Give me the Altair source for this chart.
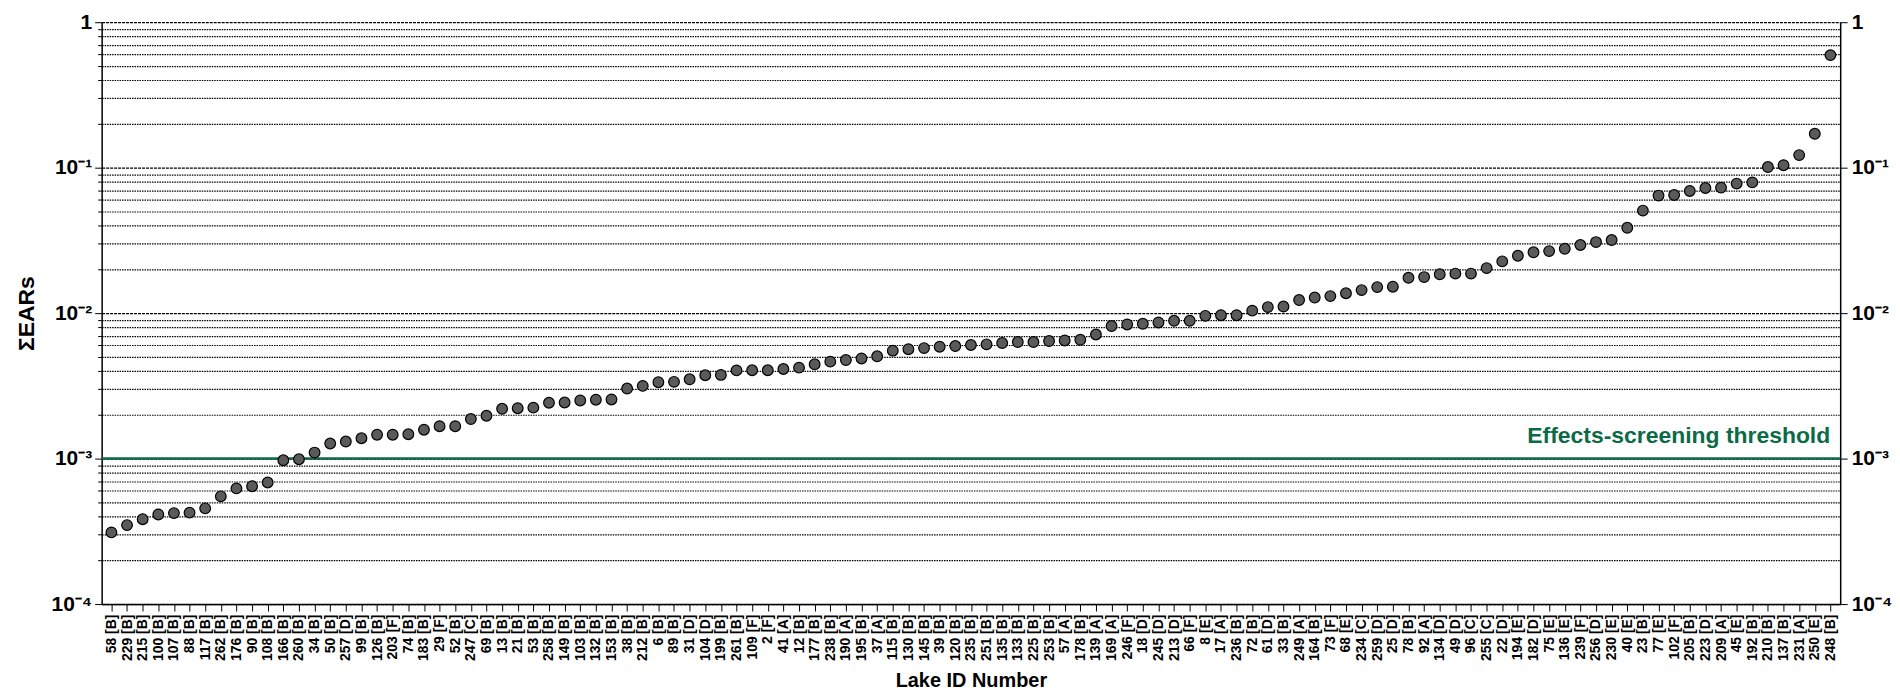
import altair as alt
import pandas as pd

lake_ids = [
    "58 [B]", "229 [B]", "215 [B]", "100 [B]", "107 [B]", "88 [B]", "117 [B]", "262 [B]", "176 [B]", "90 [B]",
    "108 [B]", "166 [B]", "260 [B]", "34 [B]", "50 [B]", "257 [D]", "99 [B]", "126 [B]", "203 [F]", "74 [B]",
    "183 [B]", "29 [F]", "52 [B]", "247 [C]", "69 [B]", "13 [B]", "21 [B]", "53 [B]", "258 [B]", "149 [B]",
    "103 [B]", "132 [B]", "153 [B]", "38 [B]", "212 [B]", "6 [B]", "89 [B]", "31 [D]", "104 [D]", "199 [B]",
    "261 [B]", "109 [F]", "2 [F]", "41 [A]", "12 [B]", "177 [B]", "238 [B]", "190 [A]", "195 [B]", "37 [A]",
    "115 [B]", "130 [B]", "145 [B]", "39 [B]", "120 [B]", "235 [B]", "251 [B]", "135 [B]", "133 [B]", "225 [B]",
    "253 [B]", "57 [A]", "178 [B]", "139 [A]", "169 [A]", "246 [F]", "18 [D]", "245 [D]", "213 [D]", "66 [F]",
    "8 [E]", "17 [A]", "236 [B]", "72 [B]", "61 [D]", "33 [B]", "249 [A]", "164 [B]", "73 [F]", "68 [E]",
    "234 [C]", "259 [D]", "25 [D]", "78 [B]", "92 [A]", "134 [D]", "49 [D]", "96 [C]", "255 [C]", "22 [D]",
    "194 [E]", "182 [D]", "75 [E]", "136 [E]", "239 [F]", "256 [D]", "230 [E]", "40 [E]", "23 [B]", "77 [E]",
    "102 [F]", "205 [B]", "223 [D]", "209 [A]", "45 [E]", "192 [B]", "210 [B]", "137 [B]", "231 [A]", "250 [E]",
    "248 [B]",
]

ears = [
    0.000311, 0.000349, 0.000383, 0.000413, 0.000422, 0.000425, 0.000455, 0.00055, 0.000624, 0.000646,
    0.000685, 0.000974, 0.00099, 0.0011, 0.00127, 0.00131, 0.00138, 0.00146, 0.00146, 0.00147,
    0.00158, 0.00167, 0.00167, 0.00187, 0.00197, 0.0022, 0.00222, 0.00224, 0.00242, 0.00243,
    0.00251, 0.00254, 0.00255, 0.00303, 0.00316, 0.00335, 0.00337, 0.00351, 0.00374, 0.00376,
    0.00404, 0.00405, 0.00405, 0.00413, 0.00422, 0.00445, 0.00464, 0.00476, 0.00488, 0.00505,
    0.00552, 0.00565, 0.00575, 0.00588, 0.00594, 0.00604, 0.0061, 0.00623, 0.00633, 0.00633,
    0.00643, 0.00649, 0.00656, 0.00713, 0.00815, 0.00836, 0.00845, 0.00863, 0.00886, 0.00886,
    0.00958, 0.00968, 0.00968, 0.0104, 0.0110, 0.0111, 0.0123, 0.0128, 0.0131, 0.0137,
    0.0144, 0.0151, 0.0152, 0.0175, 0.0177, 0.0185, 0.0187, 0.0187, 0.0204, 0.0227,
    0.0248, 0.0262, 0.0267, 0.0277, 0.0294, 0.0308, 0.0318, 0.0386, 0.0507, 0.0643,
    0.0649, 0.0692, 0.0725, 0.0729, 0.0777, 0.0792, 0.101, 0.104, 0.122, 0.171,
    0.594,
]

threshold = [0.001]
threshold_label = "Effects-screening threshold"

grid_values = [
    0.0001, 0.0002, 0.0003, 0.0004, 0.0005, 0.0006, 0.0007, 0.0008, 0.0009,
    0.001, 0.002, 0.003, 0.004, 0.005, 0.006, 0.007, 0.008, 0.009,
    0.01, 0.02, 0.03, 0.04, 0.05, 0.06, 0.07, 0.08, 0.09,
    0.1, 0.2, 0.3, 0.4, 0.5, 0.6, 0.7, 0.8, 0.9, 1.0,
]

FONT = "Liberation Sans"
GREEN = "#0b6b47"

df = pd.DataFrame({"lake": lake_ids, "ears": ears})
tdf = pd.DataFrame({"t": threshold, "label": [threshold_label]})

LOGV = "log(datum.value)/LN10"
IS_POW = f"abs({LOGV} - round({LOGV})) < 0.001"
LABEL_EXPR = (
    f"({IS_POW}) ? (round({LOGV}) == 0 ? '1' : round({LOGV}) == -1 ? '10\u207b\u00b9' : "
    f"round({LOGV}) == -2 ? '10\u207b\u00b2' : round({LOGV}) == -3 ? '10\u207b\u00b3' : '10\u207b\u2074') : ''"
)

yscale = alt.Scale(type="log", domain=[0.0001, 1], nice=False)

left_axis = alt.Axis(
    values=grid_values,
    labelExpr=LABEL_EXPR,
    labelFont=FONT, labelFontWeight="bold", labelFontSize=21, labelColor="black",
    labelPadding=3, labelOverlap=False,
    tickColor="black",
    tickSize={"condition": {"test": IS_POW, "value": 7}, "value": 4},
    domainColor="black", domainWidth=1.5,
    grid=True, gridColor="black", gridWidth=1.2, gridOpacity=1,
    gridDash={"condition": {"test": IS_POW, "value": [3, 1]}, "value": [1.5, 1]},
    title="\u03a3EARs", titleFont=FONT, titleFontWeight="bold", titleFontSize=23,
    titleColor="black", titlePadding=13,
)

right_axis = alt.Axis(
    orient="right",
    values=grid_values,
    labelExpr=LABEL_EXPR,
    labelFont=FONT, labelFontWeight="bold", labelFontSize=21, labelColor="black",
    labelPadding=4, labelOverlap=False,
    tickColor="black",
    tickSize={"condition": {"test": IS_POW, "value": 7}, "value": 0},
    domainColor="black", domainWidth=1.5,
    grid=False, title=None,
)

points = alt.Chart(df).mark_circle(
    size=115, color="#5a5a5a", stroke="black", strokeWidth=1.2, opacity=1
).encode(
    x=alt.X(
        "lake:N", sort=lake_ids,
        scale=alt.Scale(type="point", padding=0.625),
        axis=alt.Axis(
            labelAngle=270, labelFont=FONT, labelFontWeight="bold", labelFontSize=14,
            labelColor="black", labelPadding=3, labelOverlap=False,
            tickColor="black", tickSize=7, domainColor="black", domainWidth=1.5,
            grid=False,
            title="Lake ID Number", titleFont=FONT, titleFontWeight="bold",
            titleFontSize=20, titleColor="black", titlePadding=10,
        ),
    ),
    y=alt.Y("ears:Q", scale=yscale, axis=left_axis),
)

rule = alt.Chart(tdf).mark_rule(color=GREEN, strokeWidth=2.5).encode(
    y=alt.Y("t:Q", scale=yscale, axis=right_axis),
)

label = alt.Chart(tdf).mark_text(
    align="right", baseline="alphabetic", dy=-16, font=FONT, fontWeight="bold",
    fontSize=23, color=GREEN,
).encode(
    y=alt.Y("t:Q", scale=yscale, axis=None),
    x=alt.value(1735),
    text="label:N",
)

chart = alt.layer(rule, points, label).resolve_axis(y="independent").properties(
    width=1745, height=584,
    padding={"left": 7, "top": 2, "right": 0, "bottom": 0},
).configure_view(stroke=None)

chart.save("out.html", embed_options={"renderer": "svg", "actions": False})
